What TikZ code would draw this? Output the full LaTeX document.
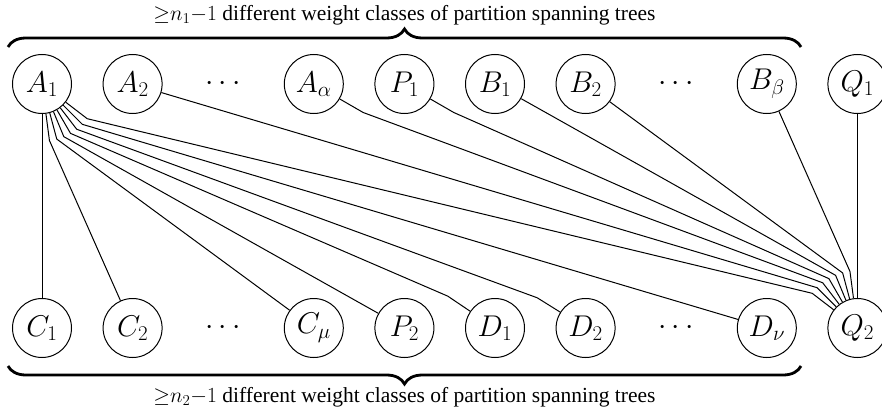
\RequirePackage{fix-cm}
\documentclass[tikz,border=0pt]{standalone}
\usepackage[no-math]{fontspec}
\setmainfont{Liberation Serif}
\usetikzlibrary{calc,decorations.pathreplacing}
\begin{document}
\begin{tikzpicture}[x=1pt,y=-1pt,
  vtx/.style={circle,draw,line width=1pt,minimum size=59pt,inner sep=0pt,font=\fontsize{30}{36}\selectfont},
  dotsnode/.style={font=\fontsize{30}{36}\selectfont},
  edge/.style={line width=1pt},
  capt/.style={font=\fontsize{21.5}{25}\selectfont},
  bracestyle/.style={decorate,decoration={brace,amplitude=18pt},line width=2.8pt}]
\useasboundingbox (0,0) rectangle (882,412);
% top row
\node[vtx] (A1) at (42,84) {$A_1$};
\node[vtx] (A2) at (132.6,84) {$A_2$};
\node[dotsnode] (dt1) at (223,84) {$\cdots$};
\node[vtx] (Aa) at (313.8,84) {$A_\alpha$};
\node[vtx] (P1) at (404.4,84) {$P_1$};
\node[vtx] (B1) at (495,84) {$B_1$};
\node[vtx] (B2) at (585.6,84) {$B_2$};
\node[dotsnode] (dt2) at (676,84) {$\cdots$};
\node[vtx] (Bb) at (766.8,84) {$B_\beta$};
\node[vtx] (Q1) at (857.4,84) {$Q_1$};
% bottom row
\node[vtx] (C1) at (42,328) {$C_1$};
\node[vtx] (C2) at (132.6,328) {$C_2$};
\node[dotsnode] (dt3) at (223,328) {$\cdots$};
\node[vtx] (Cm) at (313.8,328) {$C_\mu$};
\node[vtx] (P2) at (404.4,328) {$P_2$};
\node[vtx] (D1) at (495,328) {$D_1$};
\node[vtx] (D2) at (585.6,328) {$D_2$};
\node[dotsnode] (dt4) at (676,328) {$\cdots$};
\node[vtx] (Dn) at (766.8,328) {$D_\nu$};
\node[vtx] (Q2) at (857.4,328) {$Q_2$};
% braces and captions
\draw[bracestyle] (8,47) -- (801,47);
\draw[bracestyle] (801,366) -- (8,366);
\node[capt] (t1) at (404.4,15) {${\geq}n_1{-}1$ different weight classes of partition spanning trees};
\node[capt] (t2) at (404.4,397) {${\geq}n_2{-}1$ different weight classes of partition spanning trees};
% edges from A1
\draw[edge] (A1) -- (C1);
\draw[edge] (A1) -- ($(A1)+(-82.5:57pt)$) -- (C2);
\draw[edge] (A1) -- ($(A1)+(-75:57pt)$) -- (Cm);
\draw[edge] (A1) -- ($(A1)+(-67.5:57pt)$) -- (P2);
\draw[edge] (A1) -- ($(A1)+(-60:57pt)$) -- ($(D1)+(146:57pt)$) -- (D1);
\draw[edge] (A1) -- ($(A1)+(-52.5:57pt)$) -- ($(D2)+(148:57pt)$) -- (D2);
\draw[edge] (A1) -- ($(A1)+(-45:57pt)$) -- (Dn);
\draw[edge] (A1) -- ($(A1)+(-37.5:57pt)$) -- ($(Q2)+(142.5:57pt)$) -- (Q2);
% edges into Q2
\draw[edge] (A2) -- ($(Q2)+(135:57pt)$) -- (Q2);
\draw[edge] (Aa) -- ($(Aa)+(-30:57pt)$) -- ($(Q2)+(127.5:57pt)$) -- (Q2);
\draw[edge] (P1) -- ($(P1)+(-30:57pt)$) -- ($(Q2)+(120:57pt)$) -- (Q2);
\draw[edge] (B1) -- ($(Q2)+(112.5:57pt)$) -- (Q2);
\draw[edge] (B2) -- ($(Q2)+(105:57pt)$) -- (Q2);
\draw[edge] (Bb) -- ($(Q2)+(97.5:57pt)$) -- (Q2);
\draw[edge] (Q1) -- (Q2);
\end{tikzpicture}
\end{document}
